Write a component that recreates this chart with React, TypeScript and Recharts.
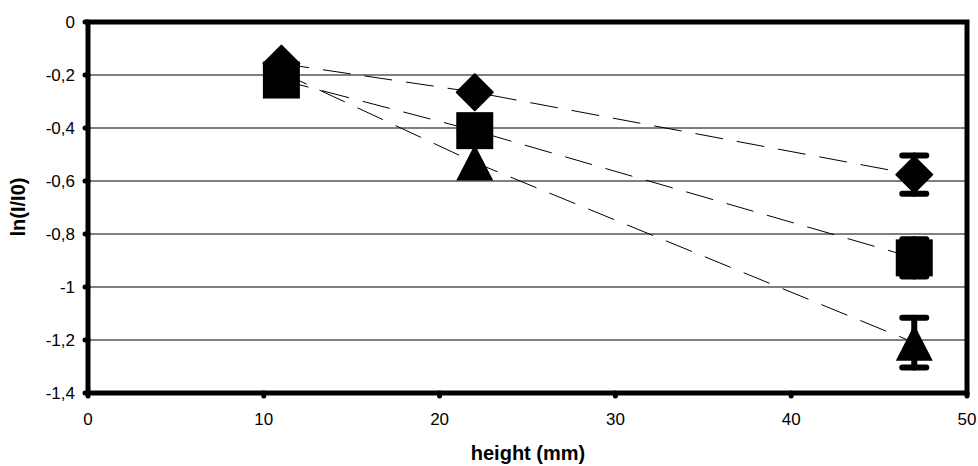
import React from 'react'
import {
  ScatterChart,
  Scatter,
  XAxis,
  YAxis,
  CartesianGrid,
  ErrorBar,
  ReferenceArea,
} from 'recharts'

const heights = [11, 22, 47]
const diamondVals = [-0.157, -0.265, -0.576]
const squareVals = [-0.219, -0.41, -0.89]
const triangleVals = [-0.19, -0.53, -1.21]
const diamondErr = [null, null, 0.072]
const squareErr = [null, null, 0.07]
const triangleErr = [null, null, 0.094]

const xTicks = [0, 10, 20, 30, 40, 50]
const yTicks = [0, -0.2, -0.4, -0.6, -0.8, -1, -1.2, -1.4]

const FONT = '"Liberation Sans", Arial, sans-serif'

function toRows(vals: number[], errs: (number | null)[]) {
  return heights.map((h, i) => ({ x: h, y: vals[i], err: errs[i] }))
}

const diamondData = toRows(diamondVals, diamondErr)
const squareData = toRows(squareVals, squareErr)
const triangleData = toRows(triangleVals, triangleErr)

const fmtY = (v: number) => String(Math.round(v * 10) / 10).replace('.', ',')

function Diamond(props: any) {
  const { cx, cy } = props
  const r = 18
  return (
    <path
      d={`M${cx},${cy - r} L${cx + r},${cy} L${cx},${cy + r} L${cx - r},${cy} Z`}
      fill="#000"
      stroke="#000"
      strokeWidth={2}
      strokeLinejoin="round"
    />
  )
}

function Square(props: any) {
  const { cx, cy } = props
  return <rect x={cx - 18.5} y={cy - 18.5} width={37} height={37} fill="#000" />
}

function Triangle(props: any) {
  const { cx, cy } = props
  return (
    <path
      d={`M${cx},${cy - 18} L${cx + 18.5},${cy + 18} L${cx - 18.5},${cy + 18} Z`}
      fill="#000"
    />
  )
}

const dashLine = { stroke: '#000', strokeWidth: 1, strokeDasharray: '28 14' }
const tickDot = { stroke: '#000', strokeWidth: 5, strokeLinecap: 'round' }
const tickText = { fontSize: 17, fill: '#000', fontFamily: FONT }

export default function App() {
  return (
    <div style={{ position: 'absolute', left: 0, top: 0, background: '#fff' }}>
      <ScatterChart width={978} height={466} margin={{ top: 22, right: 11, bottom: 0, left: 0 }}>
        <CartesianGrid vertical={false} stroke="#000" strokeWidth={1} strokeDasharray="" />
        <XAxis
          type="number"
          dataKey="x"
          domain={[0, 50]}
          ticks={xTicks}
          height={73}
          axisLine={false}
          tickSize={3}
          tickMargin={17}
          tickLine={tickDot}
          tick={tickText}
          label={{
            content: () => (
              <text x={528} y={460} textAnchor="middle" fontSize={20} fontWeight="bold" fontFamily={FONT} fill="#000">
                height (mm)
              </text>
            ),
          }}
        />
        <YAxis
          type="number"
          dataKey="y"
          domain={[-1.4, 0]}
          ticks={yTicks}
          width={88}
          axisLine={false}
          tickSize={3}
          tickMargin={10}
          tickFormatter={fmtY}
          tickLine={tickDot}
          tick={tickText}
          label={{
            content: () => (
              <text
                x={25}
                y={207}
                transform="rotate(-90 25 207)"
                textAnchor="middle"
                fontSize={20}
                fontWeight="bold"
                fontFamily={FONT}
                fill="#000"
              >
                ln(I/I0)
              </text>
            ),
          }}
        />
        <ReferenceArea
          x1={0}
          x2={50}
          y1={-1.4}
          y2={0}
          fill="none"
          fillOpacity={0}
          stroke="#000"
          strokeWidth={5}
          ifOverflow="visible"
        />
        <Scatter data={triangleData} shape={<Triangle />} line={dashLine} lineType="joint" isAnimationActive={false}>
          <ErrorBar dataKey="err" direction="y" width={12} stroke="#000" strokeWidth={6} strokeLinecap="round" />
        </Scatter>
        <Scatter data={squareData} shape={<Square />} line={dashLine} lineType="joint" isAnimationActive={false}>
          <ErrorBar dataKey="err" direction="y" width={12} stroke="#000" strokeWidth={6} strokeLinecap="round" />
        </Scatter>
        <Scatter data={diamondData} shape={<Diamond />} line={dashLine} lineType="joint" isAnimationActive={false}>
          <ErrorBar dataKey="err" direction="y" width={12} stroke="#000" strokeWidth={6} strokeLinecap="round" />
        </Scatter>
      </ScatterChart>
    </div>
  )
}
